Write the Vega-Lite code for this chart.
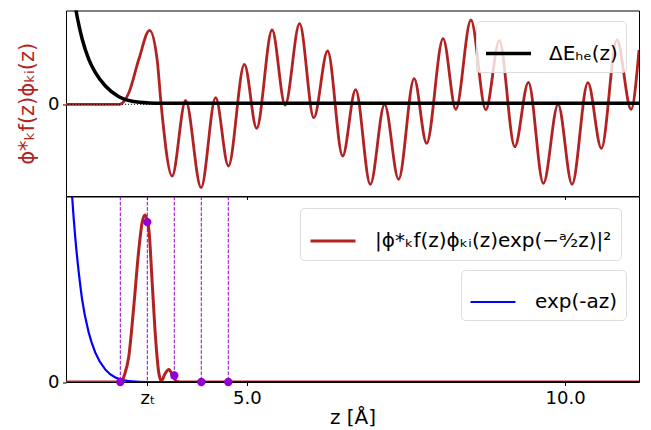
{
  "$schema": "https://vega.github.io/schema/vega-lite/v6.json",
  "background": "white",
  "padding": {"left": 16, "top": 9.5, "right": 10, "bottom": 0},
  "bounds": "flush",
  "spacing": 0,
  "resolve": {"scale": {"color": "independent"}, "legend": {"color": "independent"}},
  "config": {
    "font": "DejaVu Sans",
    "view": {"stroke": "black", "strokeWidth": 1},
    "axis": {"labelFont": "DejaVu Sans", "titleFont": "DejaVu Sans", "labelColor": "black", "tickColor": "black", "grid": false, "domain": false, "titleFontWeight": "normal", "labelFontSize": 18, "tickSize": 3.5}
  },
  "datasets": {
    "top_red": [
      {"z": 2.16, "v": 0}, {"z": 3.0, "v": 0}, {"z": 3.147, "v": 0.116}, {"z": 3.304, "v": 0.45}, {"z": 3.473, "v": 0.74},
      {"z": 3.591, "v": 0.45}, {"z": 3.654, "v": 0}, {"z": 3.827, "v": -0.717}, {"z": 4.039, "v": 0.04}, {"z": 4.282, "v": -0.834},
      {"z": 4.51, "v": 0.066}, {"z": 4.711, "v": -0.617}, {"z": 4.962, "v": 0.40}, {"z": 5.154, "v": -0.24}, {"z": 5.397, "v": 0.743},
      {"z": 5.602, "v": -0.007}, {"z": 5.829, "v": 0.806}, {"z": 6.052, "v": -0.134}, {"z": 6.269, "v": 0.533}, {"z": 6.505, "v": -0.517},
      {"z": 6.709, "v": 0.146}, {"z": 6.94, "v": -0.80}, {"z": 7.164, "v": 0.0}, {"z": 7.384, "v": -0.75}, {"z": 7.628, "v": 0.256},
      {"z": 7.824, "v": -0.39}, {"z": 8.083, "v": 0.656}, {"z": 8.283, "v": -0.05}, {"z": 8.52, "v": 0.843}, {"z": 8.754, "v": -0.055},
      {"z": 8.966, "v": 0.636}, {"z": 9.209, "v": -0.424}, {"z": 9.423, "v": 0.22}, {"z": 9.658, "v": -0.79}, {"z": 9.889, "v": 0.0},
      {"z": 10.109, "v": -0.80}, {"z": 10.357, "v": 0.217}, {"z": 10.569, "v": -0.44}, {"z": 10.813, "v": 0.645}, {"z": 11.036, "v": -0.05},
      {"z": 11.16, "v": 0.543}
    ],
    "top_black": [
      {"z": 2.16, "v": 1.6}, {"z": 2.319, "v": 0.93}, {"z": 2.415, "v": 0.65}, {"z": 2.518, "v": 0.45}, {"z": 2.622, "v": 0.316},
      {"z": 2.779, "v": 0.183}, {"z": 2.99, "v": 0.076}, {"z": 3.199, "v": 0.03}, {"z": 3.461, "v": 0.014}, {"z": 3.717, "v": 0.011},
      {"z": 4.2, "v": 0.01}, {"z": 11.16, "v": 0.01}
    ],
    "bot_red": [
      {"z": 2.16, "v": 0}, {"z": 3.015, "v": 0}, {"z": 3.081, "v": 0.04}, {"z": 3.147, "v": 0.139}, {"z": 3.225, "v": 0.409},
      {"z": 3.304, "v": 0.715}, {"z": 3.356, "v": 0.86}, {"z": 3.40, "v": 0.90}, {"z": 3.461, "v": 0.822}, {"z": 3.514, "v": 0.534},
      {"z": 3.565, "v": 0.246}, {"z": 3.618, "v": 0.048}, {"z": 3.659, "v": 0.005}, {"z": 3.709, "v": 0.04}, {"z": 3.775, "v": 0.067},
      {"z": 3.835, "v": 0.035}, {"z": 3.89, "v": 0.005}, {"z": 3.952, "v": 0}, {"z": 11.16, "v": 0}
    ],
    "bot_blue": [
      {"z": 2.2, "v": 1.33}, {"z": 2.256, "v": 1.0}, {"z": 2.308, "v": 0.769}, {"z": 2.361, "v": 0.589}, {"z": 2.413, "v": 0.445},
      {"z": 2.518, "v": 0.265}, {"z": 2.622, "v": 0.157}, {"z": 2.779, "v": 0.067}, {"z": 2.936, "v": 0.024}, {"z": 3.147, "v": 0.005},
      {"z": 3.48, "v": 0}, {"z": 11.16, "v": 0}
    ],
    "marks": [
      {"z": 3.013, "v": 0}, {"z": 3.437, "v": 0.862}, {"z": 3.861, "v": 0.035}, {"z": 4.285, "v": 0}, {"z": 4.709, "v": 0}
    ]
  },
  "vconcat": [
    {
      "width": 573,
      "height": 185.5,
      "layer": [
        {
          "data": {"name": "top_red"},
          "mark": {"type": "line", "color": "#b22222", "strokeWidth": 2.8, "interpolate": "monotone", "clip": true},
          "encoding": {
            "x": {"field": "z", "type": "quantitative", "scale": {"domain": [2.16, 11.16], "nice": false, "zero": false},
                  "axis": {"values": [3.437, 5, 10], "labels": false, "title": null, "ticks": true}},
            "y": {"field": "v", "type": "quantitative", "scale": {"domain": [-0.917, 0.938], "nice": false, "zero": false},
                  "axis": {"values": [0], "labelExpr": "'0'", "title": "ϕ*ₖf(z)ϕₖᵢ(z)", "titleColor": "#b22222", "titleFontSize": 21, "titlePadding": 10, "labelPadding": 3.5}}
          }
        },
        {
          "data": {"values": [{}]},
          "mark": {"type": "rule", "color": "black", "strokeWidth": 1, "strokeDash": [1, 2]},
          "encoding": {"y": {"datum": 0, "type": "quantitative"}}
        },
        {
          "data": {"name": "top_black"},
          "mark": {"type": "line", "strokeWidth": 3.5, "interpolate": "monotone", "clip": true},
          "encoding": {
            "x": {"field": "z", "type": "quantitative"},
            "y": {"field": "v", "type": "quantitative"},
            "color": {"datum": "ΔEₕₑ(z)", "type": "nominal", "scale": {"range": ["black"]},
              "legend": {"orient": "none", "legendX": 410, "legendY": 10.5, "title": null, "symbolType": "stroke", "symbolSize": 2025,
                "symbolStrokeWidth": 3.5, "labelFontSize": 20, "labelColor": "black", "labelOffset": 16, "padding": 8, "labelLimit": 400,
                "strokeColor": "#dddddd", "fillColor": "rgba(255,255,255,0.8)", "cornerRadius": 4}}
          }
        }
      ]
    },
    {
      "width": 573,
      "height": 185.5,
      "resolve": {"scale": {"color": "independent"}, "legend": {"color": "independent"}},
      "layer": [
        {
          "data": {"name": "bot_red"},
          "mark": {"type": "line", "strokeWidth": 3, "interpolate": "monotone", "clip": true},
          "encoding": {
            "x": {"field": "z", "type": "quantitative", "scale": {"domain": [2.16, 11.16], "nice": false, "zero": false},
                  "axis": {"values": [3.437, 5, 10], "labelExpr": "datum.value < 4 ? 'zₜ' : format(datum.value, '.1f')", "title": "z [Å]", "titleFontSize": 20, "labelPadding": 4, "titlePadding": 0}},
            "y": {"field": "v", "type": "quantitative", "scale": {"domain": [0, 1.0], "nice": false, "zero": false},
                  "axis": {"values": [0], "labelExpr": "'0'", "title": null, "labelPadding": 3.5}},
            "color": {"datum": "|ϕ*ₖf(z)ϕₖᵢ(z)exp(−ᵃ⁄₂z)|²", "type": "nominal", "scale": {"range": ["#b22222"]},
              "legend": {"orient": "none", "legendX": 234, "legendY": 11.5, "title": null, "symbolType": "stroke", "symbolSize": 2025,
                "symbolStrokeWidth": 3, "labelFontSize": 20, "labelColor": "black", "labelOffset": 18, "padding": 9, "labelLimit": 400,
                "strokeColor": "#dddddd", "fillColor": "rgba(255,255,255,0.8)", "cornerRadius": 4}}
          }
        },
        {
          "data": {"name": "bot_blue"},
          "mark": {"type": "line", "strokeWidth": 2.2, "interpolate": "monotone", "clip": true},
          "encoding": {
            "x": {"field": "z", "type": "quantitative"},
            "y": {"field": "v", "type": "quantitative"},
            "color": {"datum": "exp(-az)", "type": "nominal", "scale": {"range": ["#0000ff"]},
              "legend": {"orient": "none", "legendX": 395, "legendY": 73.5, "title": null, "symbolType": "stroke", "symbolSize": 2025,
                "symbolStrokeWidth": 2.2, "labelFontSize": 20, "labelColor": "black", "labelOffset": 18, "padding": 8, "labelLimit": 400,
                "strokeColor": "#dddddd", "fillColor": "rgba(255,255,255,0.8)", "cornerRadius": 4}}
          }
        },
        {
          "data": {"name": "marks"},
          "mark": {"type": "rule", "color": "#9400d3", "strokeWidth": 1, "strokeDash": [3.7, 1.6]},
          "encoding": {"x": {"field": "z", "type": "quantitative"}}
        },
        {
          "data": {"name": "marks"},
          "mark": {"type": "circle", "color": "#9400d3", "opacity": 1, "size": 70},
          "encoding": {"x": {"field": "z", "type": "quantitative"}, "y": {"field": "v", "type": "quantitative"}}
        }
      ]
    }
  ]
}
